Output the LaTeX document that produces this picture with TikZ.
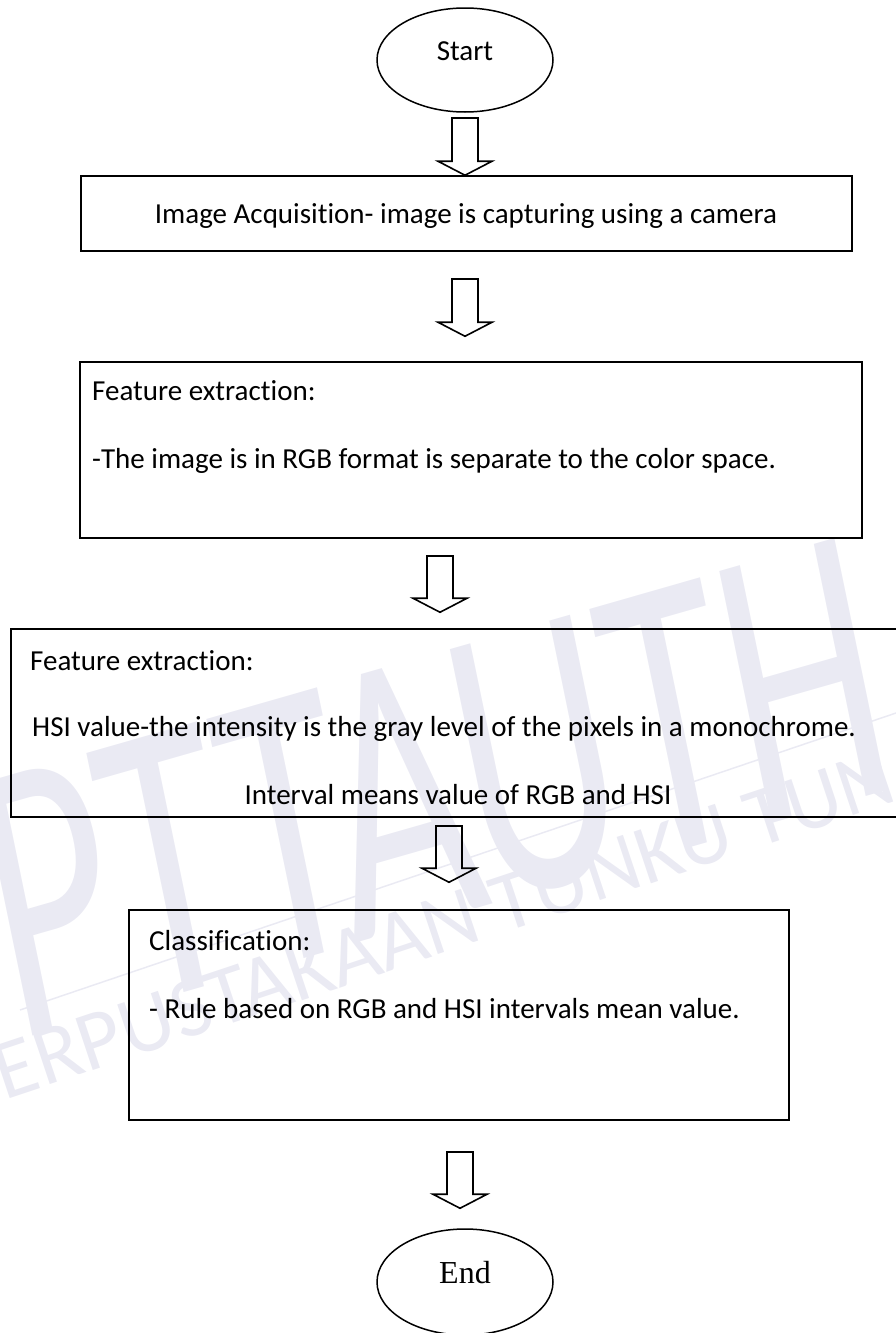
\documentclass[tikz,border=0pt]{standalone}
\usepackage{fontspec}
\setmainfont[Ligatures=NoCommon]{Carlito}
\newfontfamily\serifend{Liberation Serif}
\usepackage{xcolor}
\usepackage {tikz}
\usetikzlibrary {positioning}
\usetikzlibrary{shapes.geometric}
\usetikzlibrary{calc}

\definecolor{markgray}{RGB}{234,234,243}

\tikzset{
  txt/.style={inner sep=0pt, font=\fontsize{29}{35}\selectfont},
  blockarrow/.style={draw, line width=1.6pt, line join=miter,
    to path={let \p1=(\tikztostart), \p2=(\tikztotarget) in
      (\x2-13pt,\y1) -- (\x2+13pt,\y1) -- (\x2+13pt,\y2+14pt) -- (\x2+27pt,\y2+14pt)
      -- (\x2,\y2) -- (\x2-27pt,\y2+14pt) -- (\x2-13pt,\y2+14pt) -- cycle}}
}

\begin{document}
\begin{tikzpicture}[x=1pt,y=-1pt]
\useasboundingbox (0,0) rectangle (896,1333);

% watermark
\begin{scope}[every node/.style={text=markgray, inner sep=0pt}]
   \node[rotate=16, xscale=0.62, font=\fontsize{400}{400}\selectfont\itshape] (markbig) at (430,790) {PTTAUTH};
   \node[rotate=18.5, anchor=base west, font=\fontsize{85}{85}\selectfont] (marksmall) at (-37,1114) {PERPUSTAKAAN TUNKU TUN AMINAH};
   \coordinate (mark1) at (20,1010);
   \coordinate (mark2) at (896,713);
   \draw[markgray, line width=1.5pt] (mark1) -- (mark2);
\end{scope}

\begin{scope}[every node/.style={draw, line width=1.5pt, inner sep=0pt}]
   \node[ellipse, minimum width=176pt, minimum height=104pt] (start) at (465,60) {};
   \node[rectangle, minimum width=771pt, minimum height=75pt] (acq) at (466.5,213.5) {};
   \node[rectangle, minimum width=782pt, minimum height=176pt] (feat1) at (471,450) {};
   \node[rectangle, minimum width=909pt, minimum height=188pt] (feat2) at (465.5,723) {};
   \node[rectangle, minimum width=660pt, minimum height=210pt] (classif) at (459,1015) {};
   \node[ellipse, minimum width=176pt, minimum height=106pt] (end) at (465,1282) {};
\end{scope}

\begin{scope}[every node/.style={txt}]
   \node[anchor=base] (starttxt) at (465,60) {Start};
   \node[anchor=base] (acqtxt) at (466,223) {Image Acquisition- image is capturing using a camera};
   \node[anchor=base west] (feat1a) at (92,400) {Feature extraction:};
   \node[anchor=base west] (feat1b) at (92,468) {-The image is in RGB format is separate to the color space.};
   \node[anchor=base west] (feat2a) at (30,670) {Feature extraction:};
   \node[anchor=base west] (feat2b) at (32,736) {HSI value-the intensity is the gray level of the pixels in a monochrome.};
   \node[anchor=base] (feat2c) at (458,804) {Interval means value of RGB and HSI};
   \node[anchor=base west] (classa) at (149,950) {Classification:};
   \node[anchor=base west] (classb) at (149,1018) {- Rule based on RGB and HSI intervals mean value.};
   \node[anchor=base, font=\serifend\fontsize{32}{38}\selectfont] (endtxt) at (465,1283) {End};
\end{scope}

\coordinate (a1) at (465,118);
\coordinate (a2) at (465,279);
\coordinate (a3) at (440,556);
\coordinate (a4) at (449,826);
\coordinate (a5) at (460,1152);

\path[blockarrow] (a1) to (a1 |- acq.north);
\path[blockarrow] (a2) to ($(a2 |- feat1.north)+(0,-25)$);
\path[blockarrow] (a3) to ($(a3 |- feat2.north)+(0,-16)$);
\path[blockarrow] (a4) to ($(a4 |- classif.north)+(0,-27)$);
\path[blockarrow] (a5) to ($(a5 |- end.north)+(0,-20)$);
\end{tikzpicture}
\end{document}
